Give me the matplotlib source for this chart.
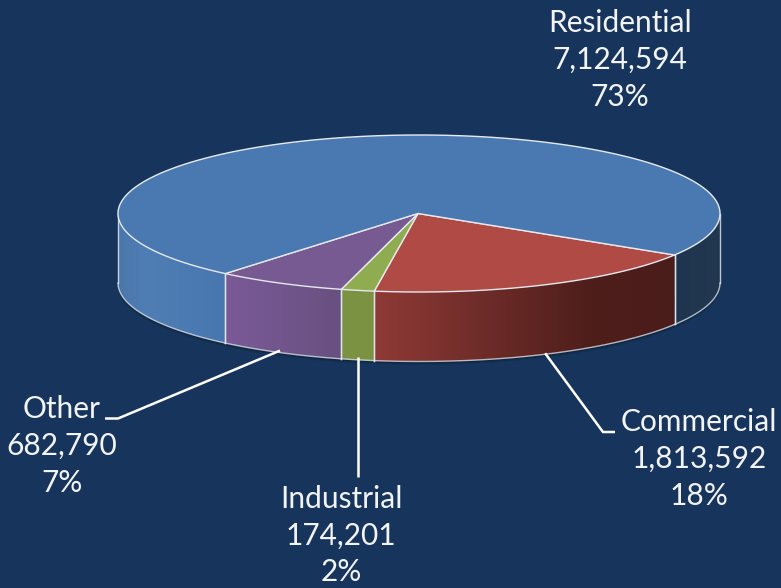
import numpy as np
import matplotlib
matplotlib.use("Agg")
import matplotlib.pyplot as plt
from matplotlib.colors import LinearSegmentedColormap
from matplotlib.patches import Polygon

# Data
categories = ["Commercial", "Industrial", "Other", "Residential"]
values = [1813592, 174201, 682790, 7124594]
percents = ["18%", "2%", "7%", "73%"]
value_labels = ["1,813,592", "174,201", "682,790", "7,124,594"]

# Style / layout
BG = "#17355c"
top_colors = ["#b04a45", "#8fad50", "#785a93", "#4a79b1"]
side_stops = {
    "Commercial": [(0.0, "#8f3a36"), (0.72, "#4e1e1b"), (1.0, "#4a1c1a")],
    "Industrial": [(0.0, "#7b9243"), (1.0, "#7b9243")],
    "Other": [(0.0, "#7a5a98"), (1.0, "#685080")],
    "ResidentialL": [(0.0, "#4a76aa"), (0.25, "#4f7eb5"), (1.0, "#4876ae")],
    "ResidentialR": [(0.0, "#1f3550"), (1.0, "#22384f")],
}
CX, CY, RX, RY, DEPTH = 419.0, 213.5, 301.0, 78.5, 69.5
START = 121.9
EDGE = "#e6eaf0"
FONT = "Lato"
FS = 21.5
LS = 1.39

fig = plt.figure(figsize=(7.81, 5.88), dpi=100, facecolor=BG)
ax = fig.add_axes([0, 0, 1, 1], facecolor=BG)
ax.set_xlim(0, 781)
ax.set_ylim(588, 0)
ax.axis("off")


def arc(a0, a1, dy=0.0, n=200):
    t = np.radians(np.linspace(a0, a1, n))
    return np.column_stack([CX + RX * np.sin(t), CY - RY * np.cos(t) + dy])


def side(a0, a1, key):
    upper = arc(a0, a1)
    lower = arc(a0, a1, DEPTH)
    pts = np.vstack([upper, lower[::-1]])
    poly = Polygon(pts, closed=True, fc="none", ec="none", transform=ax.transData)
    ax.add_patch(poly)
    cmap = LinearSegmentedColormap.from_list(key, side_stops[key])
    x0, x1 = sorted((pts[:, 0].min(), pts[:, 0].max()))
    y0, y1 = pts[:, 1].min(), pts[:, 1].max()
    im = ax.imshow(np.linspace(0, 1, 256)[None, :], extent=(x0, x1, y1, y0), aspect="auto",
                   cmap=cmap, zorder=2, interpolation="bilinear")
    im.set_clip_path(poly)
    ax.plot([upper[0, 0], lower[0, 0]], [upper[0, 1], lower[0, 1]], color=EDGE, lw=1.0, alpha=0.8, zorder=3)
    ax.plot([upper[-1, 0], lower[-1, 0]], [upper[-1, 1], lower[-1, 1]], color=EDGE, lw=1.0, alpha=0.8, zorder=3)
    ax.plot(lower[:, 0], lower[:, 1], color=EDGE, lw=1.0, alpha=0.75, zorder=3)


sweeps = 360.0 * np.array(values) / np.sum(values)
starts = START + np.concatenate([[0], np.cumsum(sweeps)[:-1]])
ends = starts + sweeps
mids = (starts + ends) / 2

# soft shadow beneath the front wall
for off, alpha in [(4.0, 0.05), (3.0, 0.08), (2.0, 0.12), (1.0, 0.15)]:
    sh = arc(90, 270, DEPTH + off)
    ax.fill(np.r_[sh[:, 0], sh[::-1, 0]], np.r_[sh[:, 1], sh[::-1, 1] - 30], color="black", alpha=alpha, lw=0, zorder=1)

# side walls: only the front half of the disc (90..270 degrees) shows
side(starts[0], ends[0], "Commercial")
side(starts[1], ends[1], "Industrial")
side(starts[2], ends[2], "Other")
side(ends[2], 270, "ResidentialL")
side(90, starts[0], "ResidentialR")

# top faces
for a0, a1, c in zip(starts, ends, top_colors):
    pts = np.vstack([[CX - 1, CY], arc(a0, a1, n=400)])
    ax.add_patch(Polygon(pts, closed=True, fc=c, ec=EDGE, lw=1.0, zorder=4, joinstyle="round"))

# leader lines, anchored at each slice's mid-angle on the lower rim
LEAD = dict(color="white", lw=1.8, zorder=5, solid_capstyle="butt", solid_joinstyle="miter")


def anchor(i):
    return arc(mids[i], mids[i], DEPTH - 1, n=1)[0]


a = anchor(0)
ax.plot([a[0], 603, 615], [a[1], 432, 432], **LEAD)
a = anchor(1)
ax.plot([a[0], a[0]], [a[1] - 2, 477], **LEAD)
a = anchor(2)
ax.plot([a[0], 118, 105], [a[1] - 1, 418.5, 418.5], **LEAD)

# labels
label_pos = {"Residential": (620, 60), "Commercial": (699, 459), "Industrial": (341, 535.5), "Other": (62, 446)}
for name, val, pct in zip(categories, value_labels, percents):
    x, y = label_pos[name]
    ax.text(x, y, f"{name}\n{val}\n{pct}", color="#f2f4f7", family=FONT, fontsize=FS,
            ha="center", va="center", linespacing=LS, multialignment="center", zorder=6)

fig.savefig("out.png", dpi=100, facecolor=BG)
